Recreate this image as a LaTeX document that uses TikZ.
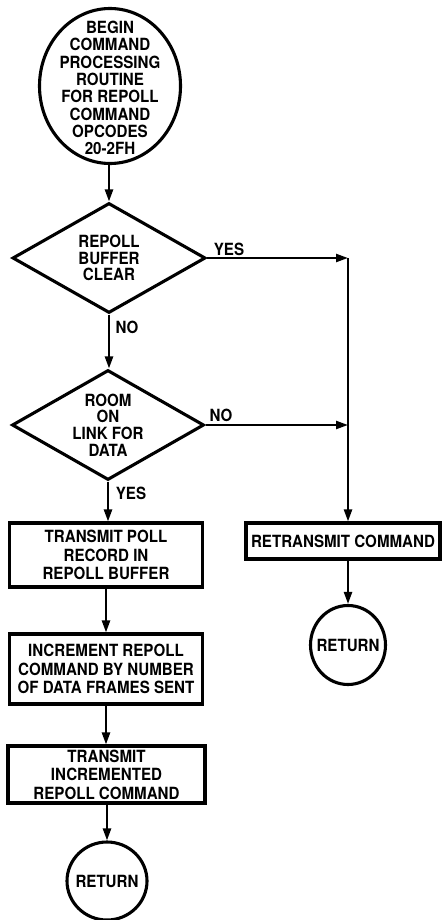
\documentclass[tikz,border=0pt]{standalone}
\usepackage{fontspec}
\setmainfont{TeX Gyre Heros}[FakeStretch=0.9]
\usetikzlibrary{shapes.geometric,arrows.meta}
\begin{document}
\begin{tikzpicture}[x=1pt,y=-1pt,
  txt/.style={font=\fontsize{16.8}{17.3}\selectfont\bfseries, align=center, inner sep=0pt},
  boxtxt/.style={font=\fontsize{16.8}{18.5}\selectfont\bfseries, align=center},
  outline/.style={draw, line width=3.1pt},
  term/.style={outline, ellipse, inner sep=0pt},
  decide/.style={outline, diamond, aspect=1.75, inner sep=0pt, txt, font=\fontsize{16.8}{16.8}\selectfont\bfseries},
  proc/.style={outline, rectangle, inner sep=0pt, boxtxt},
  flow/.style={line width=2.3pt, -{Triangle[length=12pt,width=8pt]}},
  tag/.style={txt}
]
\useasboundingbox (0,0) rectangle (443,920);

% terminals
\node[term, minimum width=141pt, minimum height=155pt] (start) at (110,86) {};
\node[txt] (startText) at (110,88)
  {BEGIN\\COMMAND\\PROCESSING\\ROUTINE\\FOR REPOLL\\COMMAND\\OPCODES\\20-2FH};

% decisions
\node[decide, minimum width=193pt, minimum height=110pt] (d1) at (109,258)
  {REPOLL\\BUFFER\\CLEAR};
\node[decide, minimum width=192pt, minimum height=110pt] (d2) at (108,425)
  {ROOM\\ON\\LINK FOR\\DATA};

% process boxes, left column
\node[proc, minimum width=193pt, minimum height=64pt] (b1) at (106,555)
  {TRANSMIT POLL\\RECORD IN\\REPOLL BUFFER};
\node[proc, minimum width=193pt, minimum height=70pt] (b2) at (106,669)
  {INCREMENT REPOLL\\COMMAND BY NUMBER\\OF DATA FRAMES SENT};
\node[proc, minimum width=197pt, minimum height=57pt] (b3) at (106.5,774.5)
  {TRANSMIT\\INCREMENTED\\REPOLL COMMAND};
\node[term, minimum width=80pt, minimum height=78pt] (endL) at (107,881) {};
\node[txt] (endLText) at (endL.center) {RETURN};

% right column
\node[proc, minimum width=194pt, minimum height=36pt] (rx) at (343,541)
  {RETRANSMIT COMMAND};
\node[term, minimum width=75pt, minimum height=79pt] (endR) at (348,645) {};
\node[txt] (endRText) at (endR.center) {RETURN};

% junctions on the right-hand bus
\coordinate (j1) at (d1.east -| endR);
\coordinate (j2) at (d2.east -| endR);

% branch labels
\node[tag] (yes1) at (229,249) {YES};
\node[tag] (no1) at (127,327) {NO};
\node[tag] (no2) at (221,415) {NO};
\node[tag] (yes2) at (131,493) {YES};

% connectors
\draw[flow] (start.south -| d1) -- (d1.north);
\draw[flow] (d1.south) -- (d1.south |- d2.north);
\draw[flow] (d2.south) -- (d2.south |- b1.north);
\draw[flow] (b1.south) -- (b1.south |- b2.north);
\draw[flow] (b2.south) -- (b2.south |- b3.north);
\draw[flow] (b3.south -| endL) -- (endL.north);
\draw[flow] (d1.east) -- (j1);
\draw[flow] (d2.east) -- (j2);
\draw[flow] (j1) -- (j1 |- rx.north);
\draw[flow] (rx.south -| endR) -- (endR.north);
\end{tikzpicture}
\end{document}
